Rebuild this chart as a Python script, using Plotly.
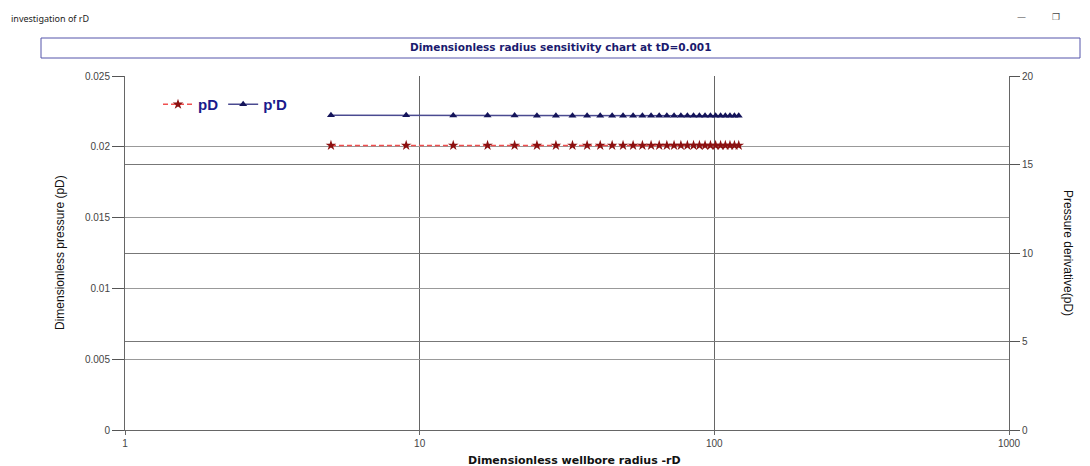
import plotly.graph_objects as go

# Data
rD = [5, 9, 13, 17, 21, 25, 29, 33, 37, 41, 45, 49, 53, 57, 61, 65, 69, 73, 77, 81,
      85, 89, 93, 97, 101, 105, 109, 113, 117, 121]
pD = [0.0201] * len(rD)
dpD = [17.78, 17.78, 17.77, 17.77, 17.77, 17.76, 17.76, 17.76, 17.76, 17.76,
       17.76, 17.76, 17.76, 17.76, 17.76, 17.76, 17.76, 17.76, 17.76, 17.76,
       17.76, 17.76, 17.76, 17.76, 17.76, 17.76, 17.76, 17.76, 17.76, 17.76]

x_ticks = [1, 10, 100, 1000]
y_ticks = [0, 0.005, 0.01, 0.015, 0.02, 0.025]
y_labels = ["0", "0.005", "0.01", "0.015", "0.02", "0.025"]
y2_ticks = [0, 5, 10, 15, 20]

# page offset caused by the default body margin
OFF = 8
W, H = 1090 - OFF, 466 - OFF
L, R, T, B = 125, 1009, 76, 430  # plot area in page pixels


def px(xp):
    return (xp - L) / (R - L)


def py(yp):
    return (B - yp) / (B - T)


fig = go.Figure()
fig.add_trace(go.Scatter(
    x=rD, y=pD, name="pD", mode="lines+markers",
    line=dict(color="#f05050", width=1.5, dash="5px,3px"),
    marker=dict(symbol="star", size=8, color="#8b1010"),
))
fig.add_trace(go.Scatter(
    x=rD, y=dpD, name="p'D", mode="lines+markers", yaxis="y2",
    line=dict(color="#4a4a90", width=1.5),
    marker=dict(symbol="triangle-up", size=7, color="#14145a"),
))

tickfont = dict(family="Liberation Sans, Arial, sans-serif", size=10, color="#444")

fig.update_layout(
    width=W, height=H,
    margin=dict(l=L - OFF, r=W - (R - OFF), t=T - OFF, b=H - (B - OFF), autoexpand=False),
    paper_bgcolor="white", plot_bgcolor="white",
    showlegend=True,
    legend=dict(orientation="h", x=px(158), y=py(88), xanchor="left", yanchor="top",
                font=dict(family="Liberation Sans, Arial, sans-serif", size=15,
                          color="#1a1a8c", weight="bold"),
                bgcolor="rgba(0,0,0,0)", itemwidth=30, tracegroupgap=0),
    xaxis=dict(type="log", range=[0, 3], tickvals=x_ticks,
               ticktext=[str(v) for v in x_ticks],
               showgrid=True, gridcolor="#666", gridwidth=1,
               showline=True, linecolor="#666", linewidth=1,
               ticks="outside", ticklen=4, tickcolor="#666",
               tickfont=tickfont, zeroline=False, automargin=False),
    yaxis=dict(range=[0, 0.025], tickvals=y_ticks, ticktext=y_labels,
               showgrid=True, gridcolor="#999", gridwidth=1,
               showline=True, linecolor="#666", linewidth=1,
               ticks="outside", ticklen=12, tickcolor="#555",
               tickfont=tickfont, zeroline=False, automargin=False),
    yaxis2=dict(range=[0, 20], tickvals=y2_ticks, overlaying="y", side="right",
                showgrid=True, gridcolor="#777", gridwidth=1,
                showline=True, linecolor="#666", linewidth=1,
                ticks="outside", ticklen=10, tickcolor="#555",
                tickfont=tickfont, zeroline=False, automargin=False),
)

# Title box
fig.add_shape(type="rect", xref="paper", yref="paper",
              x0=px(41), x1=px(1080), y0=py(58), y1=py(38),
              line=dict(color="#5555aa", width=1), fillcolor="white", layer="below")
fig.add_annotation(xref="paper", yref="paper", x=px(560), y=py(47),
                   text="<b>Dimensionless radius sensitivity chart at tD=0.001</b>",
                   showarrow=False, xanchor="center", yanchor="middle",
                   font=dict(family="DejaVu Sans, sans-serif", size=10.5, color="#1a1a6e"))
# Window caption
fig.add_annotation(xref="paper", yref="paper", x=px(9), y=py(19),
                   text="investigation of rD", showarrow=False,
                   xanchor="left", yanchor="middle",
                   font=dict(family="Noto Sans, sans-serif", size=9, color="#222"))
fig.add_annotation(xref="paper", yref="paper", x=px(1021), y=py(17),
                   text="—", showarrow=False, xanchor="center", yanchor="middle",
                   font=dict(family="DejaVu Sans, sans-serif", size=9, color="#444"))
fig.add_annotation(xref="paper", yref="paper", x=px(1056), y=py(17),
                   text="❐", showarrow=False, xanchor="center", yanchor="middle",
                   font=dict(family="DejaVu Sans, sans-serif", size=9, color="#444"))
# Axis titles
fig.add_annotation(xref="paper", yref="paper", x=px(574), y=py(461),
                   text="<b>Dimensionless wellbore radius -rD</b>", showarrow=False,
                   xanchor="center", yanchor="middle",
                   font=dict(family="DejaVu Sans, sans-serif", size=11, color="#111"))
fig.add_annotation(xref="paper", yref="paper", x=px(60), y=py(253),
                   text="Dimensionless pressure (pD)", showarrow=False, textangle=-90,
                   xanchor="center", yanchor="middle",
                   font=dict(family="Liberation Sans Narrow, Liberation Sans, Arial, sans-serif",
                             size=12, color="#111"))
fig.add_annotation(xref="paper", yref="paper", x=px(1068), y=py(253),
                   text="Pressure derivative(pD)", showarrow=False, textangle=90,
                   xanchor="center", yanchor="middle",
                   font=dict(family="Liberation Sans Narrow, Liberation Sans, Arial, sans-serif",
                             size=12, color="#111"))

fig.write_html("out.html")
